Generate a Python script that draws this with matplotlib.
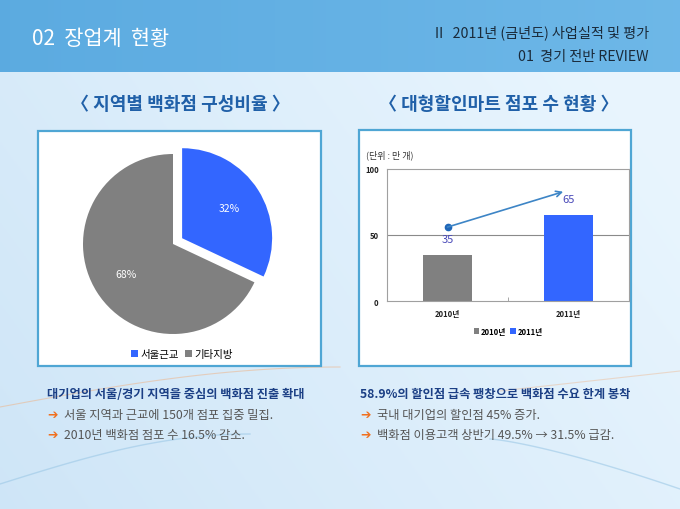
import matplotlib.pyplot as plt
import numpy as np
from matplotlib.patches import Rectangle

plt.rcParams['font.family'] = ['Noto Sans CJK KR', 'DejaVu Sans']

# pie: regional department store share
pie_labels = ['서울근교', '기타지방']
pie_values = [32, 68]
pie_colors = ['#3366ff', '#808080']

# bar: discount mart store count (unit: 10k)
years = ['2010년', '2011년']
stores = [35, 65]
bar_colors = ['#808080', '#3366ff']
trend_y = [56, 84]  # growth arrow start / end

W, H = 680, 510
fig = plt.figure(figsize=(6.8, 5.1), dpi=100)


def px_axes(l, t, w, h):
    return fig.add_axes([l / W, 1 - (t + h) / H, w / W, h / H])


bg = fig.add_axes([0, 0, 1, 1])

# body background gradient
gx, gy = np.meshgrid(np.linspace(0, 1, 200), np.linspace(0, 1, 200))
c1 = np.array([0.81, 0.90, 0.97])
c2 = np.array([0.91, 0.96, 0.995])
t = np.clip(gx * 0.75 + (1 - gy) * 0.35, 0, 1)
bg.imshow(c1 + (c2 - c1) * t[..., None], extent=[0, W, H, 73], aspect='auto', zorder=0)

# header band
h1 = np.array([0.36, 0.67, 0.88])
h2 = np.array([0.43, 0.72, 0.91])
hx, hy = np.meshgrid(np.linspace(0, 1, 200), np.linspace(0, 1, 20))
bg.imshow(h1 + (h2 - h1) * hx[..., None], extent=[0, W, 73, 0], aspect='auto', zorder=0)

# faint decorative swooshes
s = np.linspace(0, 1, 100)
bg.plot(s * 340, 408 - 40 * np.sin(s * np.pi / 2), color='#f0b080', lw=0.8, alpha=0.5)
bg.plot(s * 250, 485 - 50 * np.sin(s * np.pi / 2), color='#9cc8e6', lw=1.0, alpha=0.6)
bg.plot(490 + s * 190, 440 + 50 * s ** 1.3, color='#9cc8e6', lw=1.0, alpha=0.6)
bg.plot(500 + s * 180, 392 - 20 * s, color='#f0b080', lw=0.8, alpha=0.4)

bg.set_xlim(0, W)
bg.set_ylim(H, 0)
bg.axis('off')

# header texts
bg.text(32, 39, '02  장업계  현황', color='white', fontsize=15, va='center', ha='left')
bg.text(649, 33, 'II   2011년 (금년도) 사업실적 및 평가', color='#1a2a3a', fontsize=10.2,
        va='center', ha='right')
bg.text(649, 57, '01  경기 전반 REVIEW', color='#1a2a3a', fontsize=10.2, va='center', ha='right')

# section titles
bg.text(180, 105, '〈 지역별 백화점 구성비율 〉', color='#2060a8', fontsize=13,
        fontweight='bold', ha='center', va='center')
bg.text(499, 105, '〈 대형할인마트 점포 수 현황 〉', color='#2060a8', fontsize=13,
        fontweight='bold', ha='center', va='center')

# white chart boxes
bg.add_patch(Rectangle((38, 132), 283, 235, fc='white', ec='#4fa6d4', lw=1.6, zorder=2))
bg.add_patch(Rectangle((359, 131), 272, 236, fc='white', ec='#4fa6d4', lw=1.6, zorder=2))

# ---- pie ----
axp = px_axes(173 - 121.5, 245 - 121.5, 243, 243)
wedges, _, autotexts = axp.pie(pie_values, colors=pie_colors, explode=[0.12, 0],
                               startangle=90, counterclock=False, radius=1,
                               autopct='%1.0f%%', pctdistance=0.62,
                               textprops=dict(color='white', fontsize=7.5))
axp.set_xlim(-1.35, 1.35)
axp.set_ylim(-1.35, 1.35)
axp.set_aspect('equal')
axp.axis('off')
fig.legend(wedges, pie_labels, loc='center', bbox_to_anchor=(182 / W, 1 - 355 / H),
           ncol=2, frameon=False, fontsize=7.5, handlelength=0.7, handleheight=0.7,
           handletextpad=0.2, columnspacing=0.6)

# ---- bar ----
axb = px_axes(387, 170, 242, 132)
x = np.arange(len(years))
bars = axb.bar(x, stores, width=0.4, color=bar_colors, zorder=2)
axb.axhline(50, color='#8a8a8a', lw=0.8, zorder=1)
axb.set_xlim(-0.5, 1.5)
axb.set_ylim(0, 100)
axb.set_yticks([0, 50, 100])
axb.set_xticks(x)
axb.set_xticklabels(years)
axb.set_xticks([0.5], minor=True)
axb.tick_params(axis='both', which='major', length=0, labelsize=5.5, pad=6, labelcolor='#222222')
axb.tick_params(axis='x', which='minor', direction='in', length=3, color='#999999')
for lab in axb.get_xticklabels() + axb.get_yticklabels():
    lab.set_fontweight('bold')
for sp in axb.spines.values():
    sp.set_color('#a0a0a0')
    sp.set_linewidth(0.8)

axb.plot(x[0], trend_y[0], 'o', ms=4.5, color='#1f66b8', zorder=4)
axb.annotate('', xy=(x[1], trend_y[1]), xytext=(x[0], trend_y[0]),
             arrowprops=dict(arrowstyle='->', color='#3d85c6', lw=1.2, shrinkA=0, shrinkB=4),
             zorder=4)
for xi, v in zip(x, stores):
    axb.text(xi, v + 12, str(v), color='#4848b8', fontsize=8, ha='center', va='center')

leg = fig.legend(bars, years, loc='center', bbox_to_anchor=(508 / W, 1 - 332 / H), ncol=2,
                 frameon=False, fontsize=5.5, handlelength=0.7, handleheight=0.7,
                 handletextpad=0.2, columnspacing=0.6)
for txt in leg.get_texts():
    txt.set_fontweight('bold')
bg.text(366, 155, '(단위 : 만 개)', color='#333333', fontsize=6.5, va='center', ha='left')

# ---- bottom notes ----
heads = ['대기업의 서울/경기 지역을 중심의 백화점 진출 확대',
         '58.9%의 할인점 급속 팽창으로 백화점 수요 한계 봉착']
notes = [['서울 지역과 근교에 150개 점포 집중 밀집.', '2010년 백화점 점포 수 16.5% 감소.'],
         ['국내 대기업의 할인점 45% 증가.', '백화점 이용고객 상반기 49.5% → 31.5% 급감.']]
for col, (head, items) in enumerate(zip(heads, notes)):
    x0 = 47 + col * 313
    bg.text(x0, 395, head, color='#1b3f85', fontsize=8.8, fontweight='bold', va='center')
    for i, item in enumerate(items):
        yy = 416 + i * 20
        bg.text(x0, yy, '➔', color='#f07020', fontsize=9, va='center', family='DejaVu Sans',
                fontweight='bold')
        bg.text(x0 + 17, yy, item, color='#555555', fontsize=8.8, va='center')

fig.savefig('out.png', dpi=100)
